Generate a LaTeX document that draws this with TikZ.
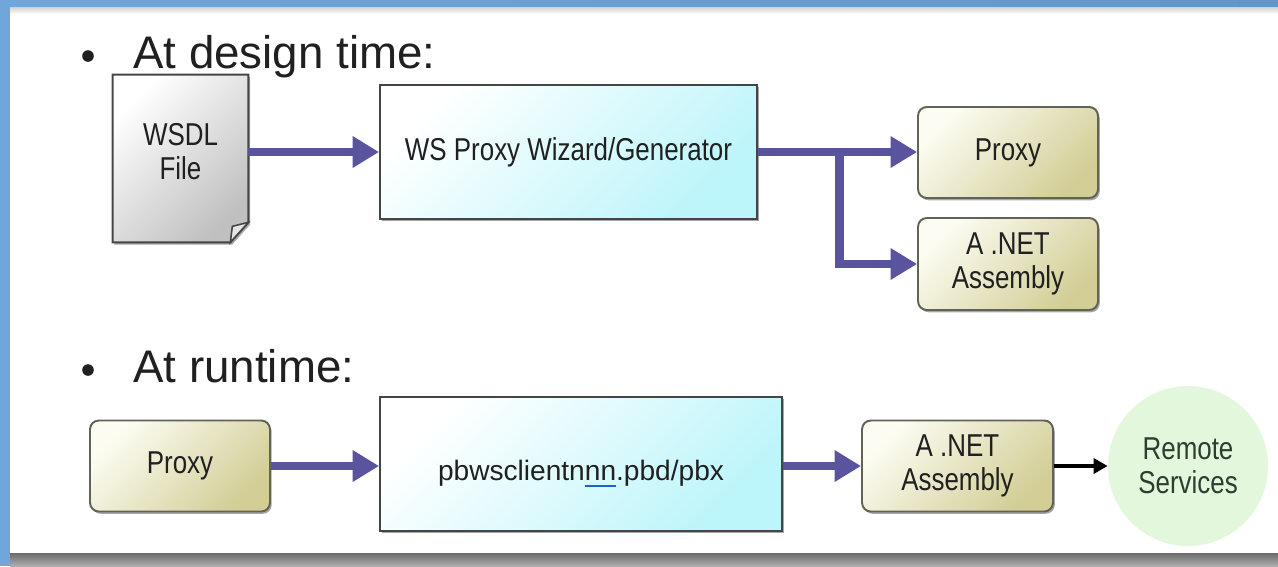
\documentclass[tikz,border=0pt]{standalone}
\usepackage{fontspec}
\setmainfont{Liberation Sans}
\newfontfamily\narrowsf[FakeStretch=0.82]{Liberation Sans}
\usetikzlibrary{arrows.meta,shadows,calc,backgrounds}

\definecolor{slideblue}{RGB}{98,150,202}
\definecolor{slidebluelight}{RGB}{112,166,220}
\definecolor{flowpurple}{RGB}{90,84,158}
\definecolor{cyanfill}{RGB}{188,245,250}
\definecolor{olivefill}{RGB}{210,206,150}
\definecolor{olivetint}{RGB}{252,252,242}
\definecolor{docgray}{RGB}{192,192,192}
\definecolor{foldgray}{RGB}{228,228,228}
\definecolor{boxedge}{RGB}{68,70,70}
\definecolor{roundedge}{RGB}{98,98,88}
\definecolor{inkdark}{RGB}{32,32,32}
\definecolor{remotegreen}{RGB}{226,247,220}
\definecolor{remoteink}{RGB}{45,62,48}
\definecolor{ulblue}{RGB}{30,100,200}

\begin{document}
\begin{tikzpicture}[x=0.02cm, y=-0.02cm,
  boxtext/.style={font=\narrowsf\fontsize{18}{19.5}\selectfont, text=inkdark,
    align=center, inner sep=0pt},
  heading/.style={font=\fontsize{26}{30}\selectfont, text=inkdark,
    anchor=base west, inner sep=0pt},
  bulletdot/.style={circle, fill=inkdark, minimum size=6.6pt, inner sep=0pt},
  softshadow/.style={drop shadow={shadow xshift=1pt, shadow yshift=-1.3pt,
    opacity=0.35, fill=black}},
  genbox/.style={boxtext, draw=boxedge, line width=1.1pt, softshadow,
    top color=white, bottom color=cyanfill, shading angle=45},
  outbox/.style={boxtext, rounded corners=5pt, draw=roundedge, line width=1.1pt,
    softshadow, top color=olivetint, bottom color=olivefill, shading angle=45},
  flow/.style={draw=flowpurple, line width=5pt,
    -{Triangle[length=15pt,width=17pt]}},
  thinflow/.style={draw=black, line width=2pt,
    -{Triangle[length=8pt,width=8.5pt]}}
]
\useasboundingbox (0,0) rectangle (1278,566);

% slide frame
\begin{scope}[on background layer]
  \fill[slideblue] (0,0) rectangle (1278,566);
  \shade[left color=slidebluelight, right color=slideblue] (0,0) rectangle (1278,8);
  \fill[slidebluelight] (0,0) rectangle (10,566);
  \fill[white] (10,7) rectangle (1278,553);
  \shade[top color=black!18, bottom color=white] (10,7) rectangle (1278,14);
  \shade[top color=black!58, bottom color=black!32] (10,553) rectangle (1278,566);
\end{scope}

% headings
\node[bulletdot] (b1) at (88,56) {};
\node[heading] (h1) at (133,68) {At design time:};
\node[bulletdot] (b2) at (88,370) {};
\node[heading] (h2) at (133,382) {At runtime:};

% design time
\node[minimum width=2.70cm, minimum height=3.34cm, inner sep=0pt] (wsdl) at (180.5,158.5) {};
\begin{scope}[on background layer]
  \path[draw=boxedge, line width=1.1pt, softshadow,
        top color=white, bottom color=docgray, shading angle=45]
    (wsdl.north west) -- (wsdl.north east) -- ($(wsdl.south east)+(0,-20)$)
    -- ($(wsdl.south east)+(-18,0)$) -- (wsdl.south west) -- cycle;
  \path[draw=boxedge, line width=0.9pt, fill=foldgray]
    ($(wsdl.south east)+(0,-20)$) -- ($(wsdl.south east)+(-16,-16)$)
    -- ($(wsdl.south east)+(-18,0)$) -- cycle;
\end{scope}
\node[boxtext] (wsdltxt) at ($(wsdl.center)+(0,-7)$) {WSDL\\File};

\node[genbox, minimum width=7.54cm, minimum height=2.68cm] (gen) at (568.5,152)
  {WS Proxy Wizard/Generator};
\node[outbox, minimum width=3.6cm, minimum height=1.82cm] (proxyA) at (1008,152.5) {Proxy};
\node[outbox, minimum width=3.6cm, minimum height=1.84cm] (asmA) at (1008,264) {A .NET\\Assembly};

\draw[flow] (gen.west -| wsdl.east) -- (gen.west);
\draw[flow] (gen.east) -- (gen.east -| proxyA.west);
\draw[flow] ($(gen.east)!0.515!(gen.east -| proxyA.west)$) |- (asmA.west);

% runtime
\node[outbox, minimum width=3.6cm, minimum height=1.82cm] (proxyB) at (180,466) {Proxy};
\node[genbox, font=\fontsize{16}{18}\selectfont, minimum width=8.04cm, minimum height=2.68cm,
      text height=22pt, text depth=3pt] (client) at (581,464)
  {pbwsclientn\rlap{\color{ulblue}\rule[-3.4pt]{1.112em}{0.9pt}}nn.pbd/pbx};
\node[outbox, minimum width=3.82cm, minimum height=1.82cm] (asmB) at (957.5,466) {A .NET\\Assembly};
\node[boxtext, circle, fill=remotegreen, minimum size=3.2cm, text=remoteink] (remote)
  at (1188,466) {Remote\\Services};

\draw[flow] (proxyB.east) -- (proxyB.east -| client.west);
\draw[flow] (client.east |- asmB.west) -- (asmB.west);
\draw[thinflow] (asmB.east) -- (remote.west);
\end{tikzpicture}
\end{document}
